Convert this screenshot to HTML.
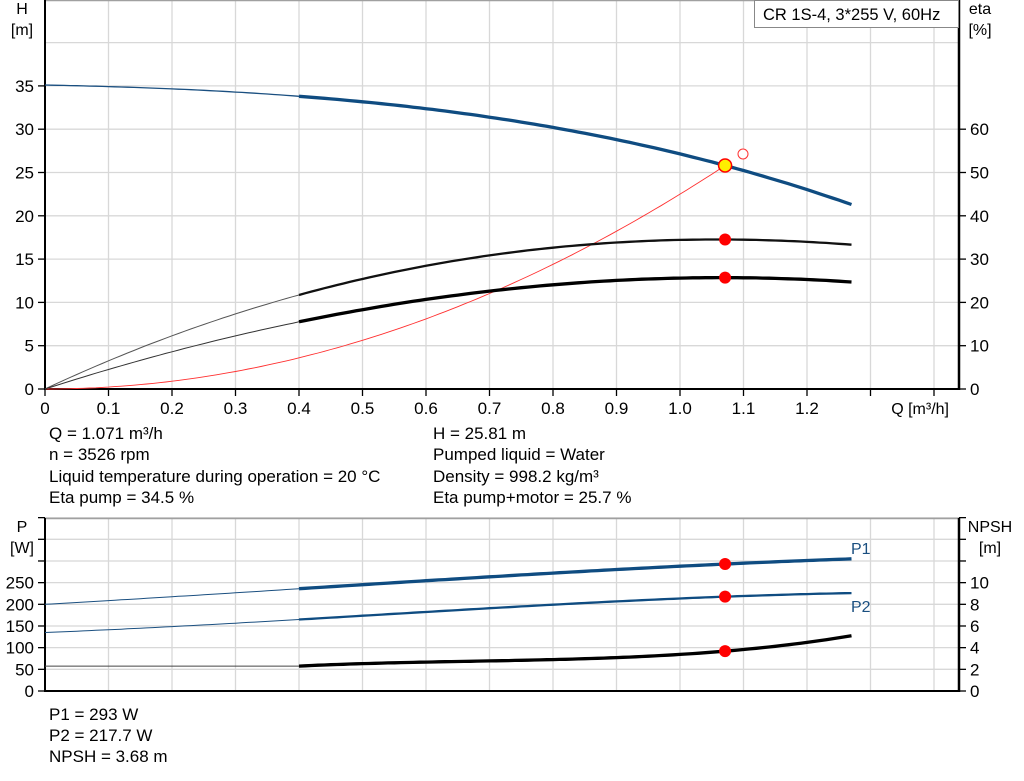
<!DOCTYPE html>
<html><head><meta charset="utf-8"><style>
body{margin:0;background:#fff;}
svg{display:block;font-family:"Liberation Sans",Arial,sans-serif;}
</style></head><body>
<svg id="s" width="1024" height="781" xmlns="http://www.w3.org/2000/svg"></svg>
<script>
const s=document.getElementById('s');let h='';
const X=q=>45+q*635;
const Yh=v=>389-v*8.66, Ye=v=>389-v*4.333, Yp=v=>691-v*0.4333, Yn=v=>691-v*10.83;
function lag(pts){return q=>{let r=0;for(let i=0;i<pts.length;i++){let t=pts[i][1];for(let j=0;j<pts.length;j++)if(j!=i)t*=(q-pts[j][0])/(pts[i][0]-pts[j][0]);r+=t;}return r;}}
function path(f,Y,a,b,col,w){let d='';for(let q=a;q<=b+1e-9;q+=0.01){d+=(d?'L':'M')+X(q).toFixed(1)+','+Y(f(q)).toFixed(1);}h+=`<path d="${d}" fill="none" stroke="${col}" stroke-width="${w}"/>`;}
function line(x1,y1,x2,y2,c,w){h+=`<line x1="${x1}" y1="${y1}" x2="${x2}" y2="${y2}" stroke="${c}" stroke-width="${w}"/>`;}
function txt(x,y,t,a,sz){h+=`<text x="${x}" y="${y}" font-size="${sz||17}" text-anchor="${a||'start'}" fill="#000">${t}</text>`;}
for(let k=1;k<=14;k++){line(X(k/10),0,X(k/10),389,'#d8d8d8',1.3);line(X(k/10),518,X(k/10),691,'#d8d8d8',1.3);}
for(let k=1;k<=9;k++){line(45,389-k*43.3,959,389-k*43.3,'#d8d8d8',1.3);}
for(let k=1;k<=8;k++){line(45,691-k*21.67,959,691-k*21.67,'#d8d8d8',1.3);}
line(45,0.5,959,0.5,'#a0a0a0',1.5);line(45,518.5,959,518.5,'#a0a0a0',1.5);
line(45,0,45,390,'#000',2);line(44,389,960,389,'#000',2);line(959,0,959,390,'#000',2.5);
for(let k=0;k<=7;k++){let y=389-k*43.3;line(38,y,45,y,'#000',1.3);txt(34,y+6,k*5,'end',17);}
for(let k=0;k<=6;k++){let y=389-k*43.3;line(959,y,966,y,'#000',1.3);txt(970,y+6,k*10,'start',17);}
for(let k=0;k<=14;k++){let x=X(k/10);line(x,389,x,396,'#000',1.3);if(k<=12)txt(x,414,k==0?'0':(k/10).toFixed(1),'middle',17);}
txt(949,414,'Q [m³/h]','end',16);
txt(22,14,'H','middle',16);txt(22,35,'[m]','middle',16);
txt(980,14,'eta','middle',16);txt(980,35,'[%]','middle',16);
h+=`<rect x="754.5" y="0.5" width="204" height="27" fill="#fff" stroke="#888"/>`;txt(763,20,'CR 1S-4, 3*255 V, 60Hz','start',16.5);
const H=lag([[0,35.1],[0.4,33.8],[1.071,25.81],[1.27,21.3]]);
const E1=lag([[0,0],[0.4,21.7],[1.071,34.5],[1.27,33.3]]);
const E2=lag([[0,0],[0.4,15.5],[1.071,25.7],[1.27,24.7]]);
const R=q=>22.5*q*q;
path(R,Yh,0,1.071,'#ff3030',0.9);
path(E1,Ye,0,0.4,'#555',1);path(E1,Ye,0.4,1.27,'#111',2.3);
path(E2,Ye,0,0.4,'#333',1);path(E2,Ye,0.4,1.27,'#000',3.3);
path(H,Yh,0,0.4,'#1a4f80',1.3);path(H,Yh,0.4,1.27,'#0f4c81',3.3);
h+=`<circle cx="${X(1.071)}" cy="${Ye(34.5)}" r="6" fill="#f00"/><circle cx="${X(1.071)}" cy="${Ye(25.7)}" r="6" fill="#f00"/>`;
h+=`<circle cx="743" cy="154" r="5" fill="#fff" stroke="#f33" stroke-width="1"/>`;
h+=`<circle cx="${X(1.071)}" cy="${Yh(25.81)}" r="6.5" fill="#ffee00" stroke="#f00" stroke-width="1.5"/>`;
txt(49,439,'Q = 1.071 m³/h');txt(49,460,'n = 3526 rpm');txt(49,482,'Liquid temperature during operation = 20 °C');txt(49,503,'Eta pump = 34.5 %');
txt(433,439,'H = 25.81 m');txt(433,460,'Pumped liquid = Water');txt(433,482,'Density = 998.2 kg/m³');txt(433,503,'Eta pump+motor = 25.7 %');
line(45,518,45,692,'#000',2);line(44,691,960,691,'#000',2);line(959,518,959,692,'#000',2.5);
for(let k=0;k<=8;k++){let y=691-k*21.67;line(38,y,45,y,'#000',1.3);line(959,y,966,y,'#000',1.3);if(k<=5)txt(34,y+6,k*50,'end',17);if(k<=5)txt(970,y+6,k*2,'start',17);}
txt(22,532,'P','middle',16);txt(22,553,'[W]','middle',16);
txt(990,532,'NPSH','middle',16);txt(990,553,'[m]','middle',16);
const P1=lag([[0,200],[0.4,236],[1.071,293],[1.27,305]]);
const P2=lag([[0,135],[0.4,165],[1.071,217.7],[1.27,226]]);
const Nf=lag([[0.4,2.3],[0.8,2.9],[1.071,3.68],[1.27,5.1]]);
const N=q=>q<=0.4?2.3:Nf(q);
path(P1,Yp,0,0.4,'#1a4f80',1);path(P1,Yp,0.4,1.27,'#0f4c81',3.3);
path(P2,Yp,0,0.4,'#1a4f80',1);path(P2,Yp,0.4,1.27,'#0f4c81',2.3);
path(N,Yn,0,0.4,'#444',1);path(N,Yn,0.4,1.27,'#000',3.3);
for(const y of [Yp(293),Yp(217.7),Yn(3.68)])h+=`<circle cx="${X(1.071)}" cy="${y}" r="6" fill="#f00"/>`;
h+=`<text x="851" y="554" font-size="16" fill="#1a4f80">P1</text><text x="851" y="612" font-size="16" fill="#1a4f80">P2</text>`;
txt(49,720,'P1 = 293 W');txt(49,741,'P2 = 217.7 W');txt(49,762,'NPSH = 3.68 m');
s.innerHTML=h;
</script>
</body></html>
